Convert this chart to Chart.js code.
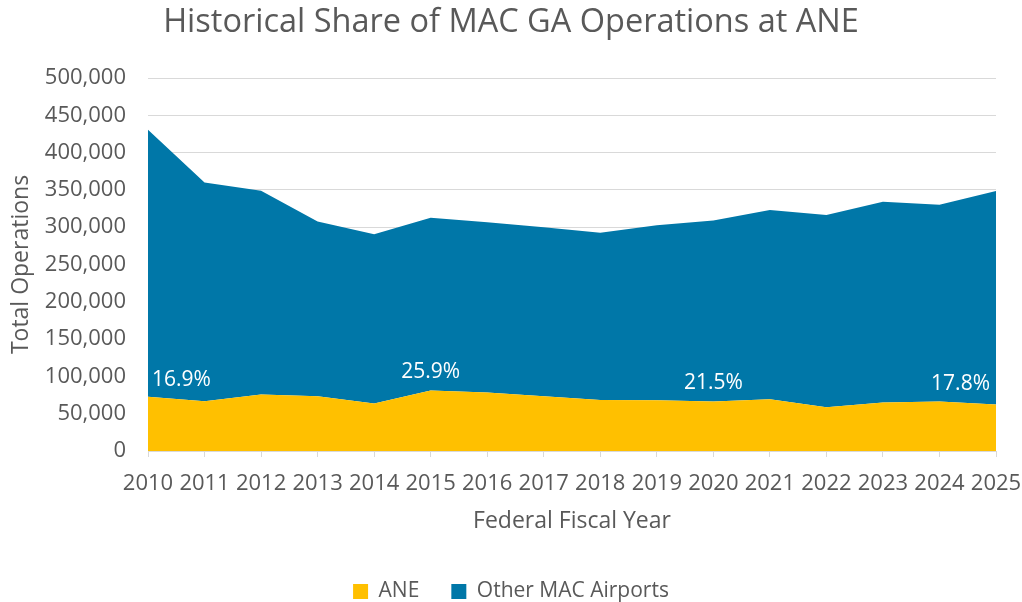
<!DOCTYPE html>
<html>
<head>
<meta charset="utf-8">
<script src="https://cdn.jsdelivr.net/npm/chart.js@4.4.1/dist/chart.umd.min.js"></script>
<style>
    html, body { margin: 0; padding: 0; background: #ffffff; }
    #chart { display: block; }
</style>
</head>
<body>
<canvas id="chart" width="1022" height="602"></canvas>
<script>
// Federal fiscal years
const years = ['2010', '2011', '2012', '2013', '2014', '2015', '2016', '2017',
               '2018', '2019', '2020', '2021', '2022', '2023', '2024', '2025'];

// GA operations at ANE
const aneOps = [72700, 66800, 75800, 73500, 63800, 81100, 78500, 73500,
                68200, 68000, 66500, 69500, 58800, 65000, 66400, 62400];

// GA operations at the other MAC airports
const otherOps = [357800, 293200, 273200, 234000, 226700, 231700, 228100, 226500,
                  224200, 234500, 242500, 253500, 257600, 269000, 263600, 286100];

// ANE share labels, shown on a few years only
const shareLabels = ['16.9%', '', '', '', '', '25.9%', '', '', '', '', '21.5%', '', '', '', '', '17.8%'];

const textGrey = '#595959';
const fontFamily = '"Open Sans", sans-serif';

/**
 * Draws the ANE share labels just above the ANE area
 */
const shareLabelPlugin = {
    id: 'shareLabels',
    afterDatasetsDraw(chart) {
        const ctx = chart.ctx;
        const meta = chart.getDatasetMeta(0);
        ctx.save();
        ctx.font = '21px ' + fontFamily;
        ctx.fillStyle = '#ffffff';
        ctx.textBaseline = 'middle';
        shareLabels.forEach((label, i) => {
            if (!label) return;
            const pt = meta.data[i];
            if (i === 0) {
                ctx.textAlign = 'left';
                ctx.fillText(label, pt.x + 4, pt.y - 17);
            } else if (i === shareLabels.length - 1) {
                ctx.textAlign = 'right';
                ctx.fillText(label, pt.x - 6, pt.y - 20);
            } else {
                ctx.textAlign = 'center';
                ctx.fillText(label, pt.x, pt.y - 18);
            }
        });
        ctx.restore();
    }
};

const ctx = document.getElementById('chart').getContext('2d');

new Chart(ctx, {
    type: 'line',
    data: {
        labels: years,
        datasets: [{
            label: 'ANE',
            data: aneOps,
            backgroundColor: '#FFC000',
            borderWidth: 0,
            pointRadius: 0,
            fill: 'origin',
            tension: 0
        }, {
            label: 'Other MAC Airports',
            data: otherOps,
            backgroundColor: '#0077A8',
            borderWidth: 0,
            pointRadius: 0,
            fill: '-1',
            tension: 0
        }]
    },
    options: {
        responsive: false,
        animation: false,
        layout: {
            padding: { left: 0, right: 0, top: 3, bottom: -10 }
        },
        plugins: {
            title: {
                display: true,
                text: 'Historical Share of MAC GA Operations at ANE',
                color: textGrey,
                font: { family: fontFamily, size: 32.5, weight: 'normal' },
                padding: { top: 0, bottom: 36 }
            },
            legend: {
                position: 'bottom',
                labels: {
                    color: textGrey,
                    font: { family: fontFamily, size: 21 },
                    boxWidth: 15,
                    boxHeight: 15,
                    padding: 32
                }
            },
            tooltip: { enabled: false }
        },
        scales: {
            x: {
                offset: false,
                grid: {
                    drawOnChartArea: false,
                    drawTicks: true,
                    tickLength: 6,
                    color: '#D9D9D9'
                },
                border: { color: '#D9D9D9' },
                ticks: {
                    color: textGrey,
                    font: { family: fontFamily, size: 22 },
                    maxRotation: 0,
                    autoSkip: false,
                    padding: 14
                },
                title: {
                    display: true,
                    text: 'Federal Fiscal Year',
                    color: textGrey,
                    font: { family: fontFamily, size: 23 },
                    padding: { top: -4, bottom: 14 }
                },
                afterFit(scale) {
                    scale.paddingLeft = 0;
                    scale.paddingRight = 26;
                }
            },
            y: {
                stacked: true,
                min: 0,
                max: 500000,
                grid: {
                    color: '#D9D9D9',
                    drawTicks: false
                },
                border: { display: false },
                ticks: {
                    stepSize: 50000,
                    color: textGrey,
                    font: { family: fontFamily, size: 22 },
                    padding: 22,
                    callback: v => v.toLocaleString('en-US')
                },
                title: {
                    display: true,
                    text: 'Total Operations',
                    color: textGrey,
                    font: { family: fontFamily, size: 23 },
                    padding: { top: 8, bottom: 0 }
                },
                afterFit(scale) {
                    scale.width = 148;
                }
            }
        }
    },
    plugins: [shareLabelPlugin]
});
</script>
</body>
</html>
